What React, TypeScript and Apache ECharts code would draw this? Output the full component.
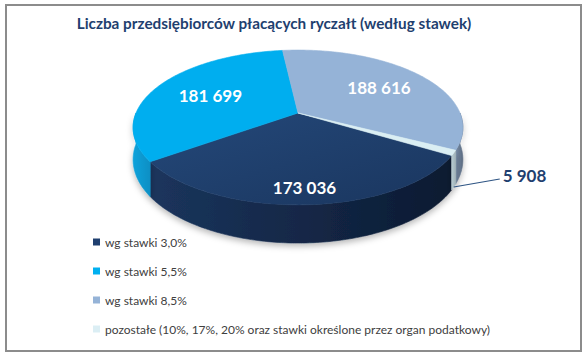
import React, { useEffect, useRef } from 'react';
import * as echarts from 'echarts';

// ---- data ----
const TITLE = 'Liczba przedsiębiorców płacących ryczałt (według stawek)';
const categories = [
  'wg stawki 3,0%',
  'wg stawki 5,5%',
  'wg stawki 8,5%',
  'pozostałe (10%, 17%, 20% oraz stawki określone przez organ podatkowy)',
];
const values = [173036, 181699, 188616, 5908];

// ---- styles ----
const legendColors = ['#1F3F6F', '#00B0F0', '#95B3D7', '#DBEEF4'];
const topFills: any[] = [
  { type: 'linear', x: 0, y: 0, x2: 1, y2: 1, colorStops: [{ offset: 0, color: '#244879' }, { offset: 1, color: '#1A365F' }] },
  '#00AEEF',
  '#95B3D7',
  '#DAEEF3',
];
const sideFills: any[] = [
  { type: 'linear', x: 0, y: 0, x2: 1, y2: 0, colorStops: [{ offset: 0, color: '#1B355D' }, { offset: 1, color: '#0C1A31' }] },
  { type: 'linear', x: 0, y: 0, x2: 1, y2: 0, colorStops: [{ offset: 0, color: '#0FA2DB' }, { offset: 1, color: '#0A8FC4' }] },
  { type: 'linear', x: 0, y: 0, x2: 1, y2: 0, colorStops: [{ offset: 0, color: '#7A8EA8' }, { offset: 1, color: '#5A6A80' }] },
  { type: 'linear', x: 0, y: 0, x2: 1, y2: 0, colorStops: [{ offset: 0, color: '#B8CCD2' }, { offset: 1, color: '#A0B2B8' }] },
];
const labelRadius = [0.84, 0.62, 0.65, 0];
const insideLabel = [true, true, true, false];

// geometry of the perspective pie
const START = 31; // degrees, screen clockwise from +x
const AX = 298, AY = 113, RX = 162, RY = 74.7, K = 0.187, DEPTH = 31;

function proj(X: number, Z: number, drop = 0): number[] {
  const d = 1 - K * Z;
  return [AX + (RX * X) / d, AY + (RY * Z + drop) / d];
}
function arc(from: number, to: number, drop: number): number[][] {
  const n = Math.max(2, Math.ceil(Math.abs(to - from)));
  const pts: number[][] = [];
  for (let s = 0; s <= n; s++) {
    const t = ((from + ((to - from) * s) / n) * Math.PI) / 180;
    pts.push(proj(Math.cos(t), Math.sin(t), drop));
  }
  return pts;
}
const fmt = (v: number) => String(v).replace(/\B(?=(\d{3})+(?!\d))/g, ' ');

export default function App() {
  const ref = useRef<HTMLDivElement>(null);
  useEffect(() => {
    document.body.style.margin = '0';
    const chart = echarts.init(ref.current!, null, { renderer: 'svg' });
    const total = values.reduce((a, b) => a + b, 0);

    const series = categories.map((name, i) => ({
      type: 'custom',
      name,
      coordinateSystem: 'none',
      itemStyle: { color: legendColors[i] },
      data: [[values[i]]],
      renderItem: (params: any, api: any) => {
        const v = api.value(0);
        const before = values.slice(0, i).reduce((a, b) => a + b, 0);
        const a0 = START + (before / total) * 360;
        const a1 = a0 + (v / total) * 360;
        const children: any[] = [];
        for (let n = -1; n <= 2; n++) {
          const lo = Math.max(a0, 360 * n);
          const hi = Math.min(a1, 360 * n + 180);
          if (hi > lo) {
            const pts = arc(lo, hi, 0).concat(arc(hi, lo, DEPTH));
            children.push({
              type: 'polygon',
              shape: { points: pts },
              style: {
                fill: sideFills[i],
                stroke: sideFills[i],
                lineWidth: 0.6,
                shadowBlur: 6,
                shadowOffsetY: 3,
                shadowColor: 'rgba(0,0,0,0.28)',
              },
            });
          }
        }
        children.push({
          type: 'polygon',
          shape: { points: [[AX, AY]].concat(arc(a0, a1, 0)) },
          style: { fill: topFills[i], stroke: topFills[i], lineWidth: 0.6 },
        });
        const m = (((a0 + a1) / 2) * Math.PI) / 180;
        if (insideLabel[i]) {
          const r = labelRadius[i];
          const p = proj(r * Math.cos(m), r * Math.sin(m));
          children.push({
            type: 'text',
            x: p[0],
            y: p[1],
            style: {
              text: fmt(v),
              fill: '#FFFFFF',
              font: 'bold 17px Lato',
              align: 'center',
              verticalAlign: 'middle',
            },
          });
        } else {
          const p0 = proj(Math.cos(m), Math.sin(m), DEPTH);
          const p1 = [p0[0] + 46, p0[1] - 8];
          children.push({
            type: 'line',
            shape: { x1: p0[0], y1: p0[1], x2: p1[0], y2: p1[1] },
            style: { stroke: '#2F5584', lineWidth: 1.2 },
          });
          children.push({
            type: 'text',
            x: p1[0] + 3,
            y: p1[1] - 4,
            style: {
              text: fmt(v),
              fill: '#1F3F6F',
              font: 'bold 17px Lato',
              align: 'left',
              verticalAlign: 'middle',
            },
          });
        }
        return { type: 'group', children };
      },
    }));

    chart.setOption({
      animation: false,
      backgroundColor: '#FFFFFF',
      legend: {
        data: categories,
        orient: 'vertical',
        left: 93,
        top: 235,
        padding: 0,
        itemGap: 15,
        itemWidth: 7,
        itemHeight: 7,
        icon: 'rect',
        selectedMode: false,
        textStyle: { fontFamily: 'Lato', fontSize: 12, color: '#404040', lineHeight: 14 },
      },
      graphic: [
        {
          type: 'rect',
          shape: { x: 6, y: 5, width: 575, height: 346 },
          style: { fill: 'none', stroke: '#8C8C8C', lineWidth: 2 },
          z: 100,
        },
        {
          type: 'text',
          x: 274,
          y: 23,
          style: {
            text: TITLE,
            fill: '#1F3F6F',
            font: 'bold 15.3px Lato',
            align: 'center',
            verticalAlign: 'middle',
          },
        },
      ],
      series,
    });
    return () => chart.dispose();
  }, []);
  return <div ref={ref} style={{ width: 587, height: 361 }} />;
}
